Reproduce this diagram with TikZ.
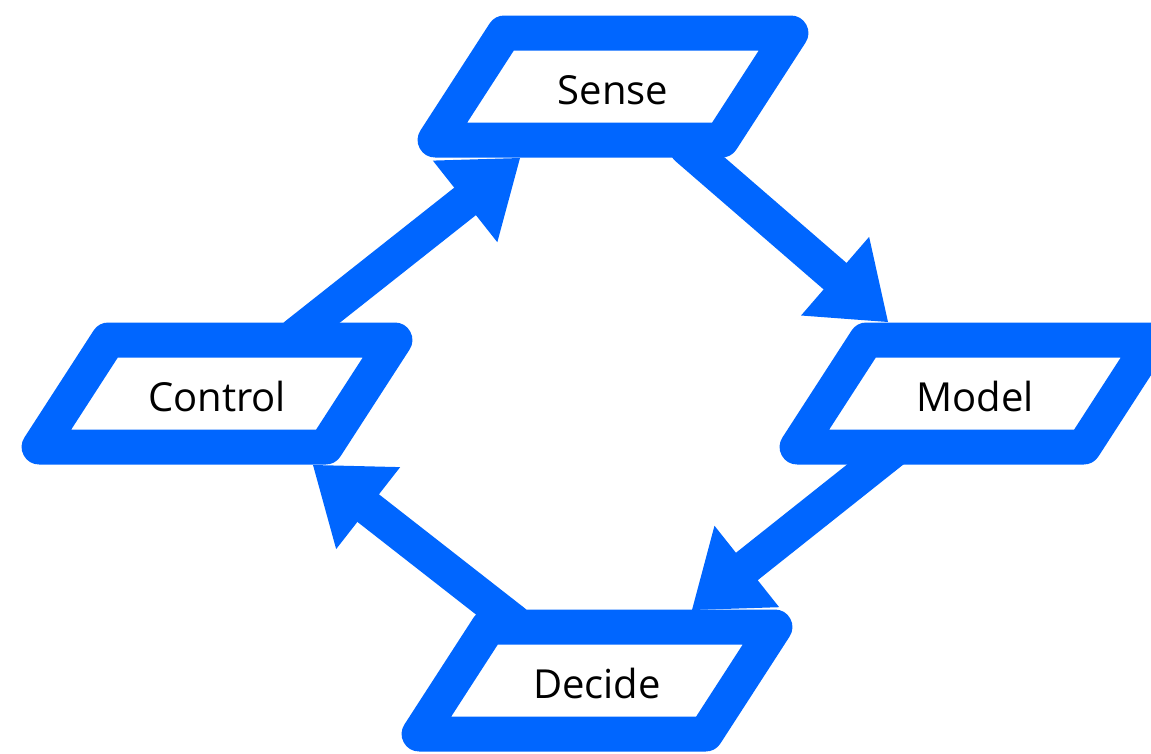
\documentclass[tikz,border=0pt]{standalone}
\usepackage{fontspec}
\setmainfont{Open Sans}
\usetikzlibrary{arrows.meta,calc}
\definecolor{vblue}{RGB}{0,102,255}
\begin{document}
\begin{tikzpicture}[x=1pt,y=-1pt,
  box/.style={draw=vblue,line width=35pt,line join=round},
  lbl/.style={font=\fontsize{40}{48}\selectfont,text=black,inner sep=0pt,text height=28.6pt,text depth=0pt},
  conn/.style={draw=vblue,line width=35pt,line cap=round,-{Triangle[length=70pt,width=104pt,line width=0pt]}}]
\useasboundingbox (0,0) rectangle (1151,753);
\fill[white] (0,0) rectangle (1151,753);
% labels
\node[lbl] (sense) at (613,90) {Sense};
\node[lbl] (model) at (975,397) {Model};
\node[lbl] (control) at (217,397) {Control};
\node[lbl] (decide) at (597,684) {Decide};
% parallelograms
\foreach \n in {sense,model,control,decide}{
  \draw[box] ($(\n)+(-108.7,-57)$) -- ($(\n)+(177.9,-57)$) -- ($(\n)+(108.7,50)$) -- ($(\n)+(-177.9,50)$) -- cycle;
}
% connector ends
\coordinate (a1s) at ($(control)+(79,-62)$);
\coordinate (a1e) at ($(sense)+(-93,68)$);
\coordinate (a2s) at ($(sense)+(74,58)$);
\coordinate (a2e) at ($(model)+(-87,-75)$);
\coordinate (a3s) at ($(model)+(-79,51)$);
\coordinate (a3e) at ($(decide)+(95,-74)$);
\coordinate (a4s) at ($(decide)+(-83,-62)$);
\coordinate (a4e) at ($(control)+(96,68)$);
\draw[conn] (a1s) -- (a1e);
\draw[conn] (a2s) -- (a2e);
\draw[conn] (a3s) -- (a3e);
\draw[conn] (a4s) -- (a4e);
\end{tikzpicture}
\end{document}
